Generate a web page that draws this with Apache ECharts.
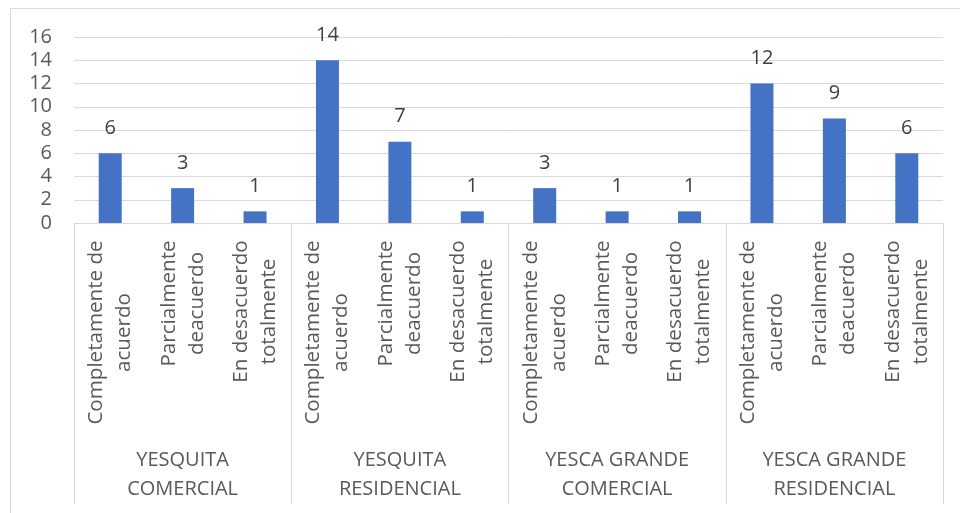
<!DOCTYPE html>
<html>
<head>
<meta charset="utf-8">
<script src="https://cdn.jsdelivr.net/npm/echarts@6/dist/echarts.min.js"></script>
<style>
  html, body { margin: 0; padding: 0; background: #ffffff; }
  #chart { width: 960px; height: 513px; }
</style>
</head>
<body>
<div id="chart"></div>
<script>
// Survey answers per site/type
const groups = [
  'YESQUITA\nCOMERCIAL',
  'YESQUITA\nRESIDENCIAL',
  'YESCA GRANDE\nCOMERCIAL',
  'YESCA GRANDE\nRESIDENCIAL'
];
const categories = [
  'Completamente de\nacuerdo', 'Parcialmente\ndeacuerdo', 'En desacuerdo\ntotalmente',
  'Completamente de\nacuerdo', 'Parcialmente\ndeacuerdo', 'En desacuerdo\ntotalmente',
  'Completamente de\nacuerdo', 'Parcialmente\ndeacuerdo', 'En desacuerdo\ntotalmente',
  'Completamente de\nacuerdo', 'Parcialmente\ndeacuerdo', 'En desacuerdo\ntotalmente'
];
const values = [6, 3, 1, 14, 7, 1, 3, 1, 1, 12, 9, 6];
const yMin = 0;
const yMax = 16;
const yStep = 2;

const FONT = '"Open Sans", sans-serif';
const FONT_SIZE = 20;
const CAT_FONT_SIZE = 20.6;
const TEXT = '#595959';
const LINE = '#D9D9D9';

// Width of each multi-line category label, so its lines can be centred
// against each other while the block stays anchored under the axis.
const measure = document.createElement('canvas').getContext('2d');
measure.font = CAT_FONT_SIZE + 'px ' + FONT;
const rich = {};
categories.forEach((c, i) => {
  const w = Math.max(...c.split('\n').map(l => measure.measureText(l).width));
  rich['r' + i] = {
    width: Math.ceil(w),
    align: 'center',
    fontFamily: FONT,
    fontSize: CAT_FONT_SIZE,
    lineHeight: 28,
    color: TEXT
  };
});

const chart = echarts.init(document.getElementById('chart'), null, { renderer: 'canvas' });

chart.setOption({
  animation: false,
  backgroundColor: '#ffffff',
  textStyle: { fontFamily: FONT },
  graphic: [{
    type: 'rect',
    silent: true,
    shape: { x: 10.5, y: 8.5, width: 980, height: 540 },
    style: { fill: 'none', stroke: LINE, lineWidth: 1 }
  }],
  grid: { left: 74, right: 17, top: 37, bottom: 290, containLabel: false },
  xAxis: [{
    type: 'category',
    data: categories,
    position: 'bottom',
    axisLine: { show: false },
    axisTick: { show: false },
    axisLabel: {
      interval: 0,
      rotate: 90,
      margin: 17,
      formatter: (v, i) => v.split('\n').map(l => '{r' + i + '|' + l + '}').join('\n'),
      rich: rich
    }
  }, {
    type: 'category',
    data: groups,
    position: 'bottom',
    axisLine: { show: true, lineStyle: { color: LINE, width: 1 } },
    axisTick: { show: true, length: 281, lineStyle: { color: LINE, width: 1 } },
    axisLabel: {
      interval: 0,
      margin: 223,
      fontFamily: FONT,
      fontSize: FONT_SIZE,
      lineHeight: 29,
      color: TEXT
    },
    splitLine: { show: false }
  }],
  yAxis: {
    type: 'value',
    min: yMin,
    max: yMax,
    interval: yStep,
    axisLine: { show: false },
    axisTick: { show: false },
    axisLabel: { margin: 22, fontFamily: FONT, fontSize: FONT_SIZE, color: TEXT },
    splitLine: { lineStyle: { color: LINE, width: 1 } }
  },
  series: [{
    type: 'bar',
    xAxisIndex: 0,
    data: values,
    barWidth: 23,
    itemStyle: { color: '#4472C4' },
    label: {
      show: true,
      position: 'top',
      distance: 15,
      fontFamily: FONT,
      fontSize: FONT_SIZE,
      color: '#404040'
    }
  }]
});
</script>
</body>
</html>
